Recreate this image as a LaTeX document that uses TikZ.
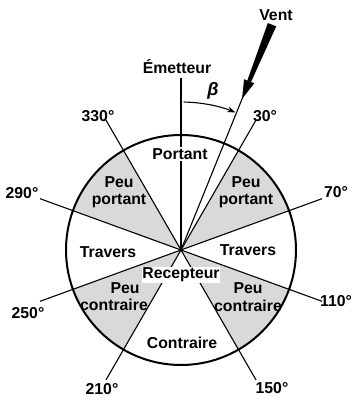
\documentclass[tikz,border=0pt]{standalone}
\usepackage{fontspec}
\setmainfont{Liberation Sans}
\usetikzlibrary{arrows.meta}
\begin{document}
\begin{tikzpicture}[x=1pt,y=1pt,
  lbl/.style={font=\fontsize{15.8}{17.5}\selectfont\bfseries, inner sep=1pt, align=center},
  sector/.style={fill=gray!30},
  ray/.style={line width=1.1pt},
  rim/.style={line width=2pt},
  mast/.style={line width=2.2pt},
]
\useasboundingbox (0,0) rectangle (355,400);
\coordinate (C) at (181,150);
% shaded sectors
\foreach \a/\b in {20/60,120/160,-20/-60,-120/-160}
  \fill[sector] (C) -- ++(\a:115) arc[start angle=\a,end angle=\b,radius=115] -- cycle;
\draw[rim] (C) circle[radius=115];
% sector boundary rays
\foreach \m in {60,20,-20,-60,-120,-160,160,120}
  \draw[ray] (C) -- ++(\m:150);
% emitter mast
\draw[mast] (C) -- ++(90:172);
% wind
\begin{scope}[shift={(C)},rotate=-22]
  \draw[ray] (0,0) -- (0,172);
  \fill (-4.5,243) -- (4.5,243) -- (2,182) -- (-2,182) -- cycle;
  \fill (-5.5,182) -- (5.5,182) -- (0,163) -- cycle;
\end{scope}
% beta arc
\draw[ray,-{Stealth[length=8pt,width=6pt]}] (C) ++(89:148) arc[start angle=89,end angle=68.5,radius=148];
% labels
\node[lbl] (em) at (177,333) {Émetteur};
\node[lbl] (vent) at (276,385) {Vent};
\node[lbl,font=\fontsize{18}{18}\selectfont\bfseries\itshape] (beta) at (213,309) {β};
\node[lbl] (d330) at (98,284) {330°};
\node[lbl] (d30) at (265,284) {30°};
\node[lbl] (d290) at (22,207) {290°};
\node[lbl] (d70) at (336,208) {70°};
\node[lbl] (d110) at (336,99) {110°};
\node[lbl] (d250) at (28,87) {250°};
\node[lbl] (d210) at (102,11) {210°};
\node[lbl] (d150) at (272,12) {150°};
\node[lbl,fill=white] (portant) at (180,246) {Portant};
\node[lbl] (ppl) at (119,208) {Peu\\portant};
\node[lbl] (ppr) at (246,208) {Peu\\portant};
\node[lbl] (trl) at (108,148) {Travers};
\node[lbl] (trr) at (248,150) {Travers};
\node[lbl,fill=white,inner sep=0.5pt] (recep) at (181,125) {Recepteur};
\node[lbl] (pcl1) at (125,112) {Peu};
\node[lbl] (pcl2) at (114,95) {contraire};
\node[lbl] (pcr) at (248,103) {Peu\\contraire};
\node[lbl] (contr) at (182,57) {Contraire};
\end{tikzpicture}
\end{document}
